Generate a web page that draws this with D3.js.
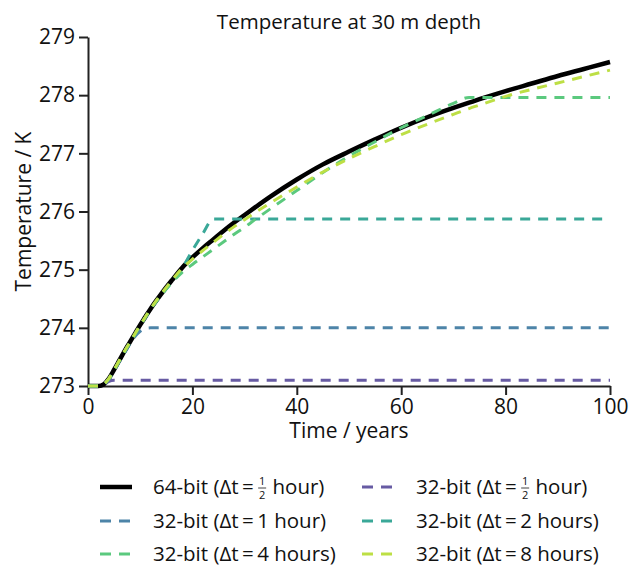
<!DOCTYPE html>
<html>
<head>
<meta charset="utf-8">
<script src="https://cdn.jsdelivr.net/npm/d3@7"></script>
<style>
  body { margin: 0; background: #fff; }
  svg { font-family: 'Open Sans', sans-serif; }
</style>
</head>
<body>
<svg id="chart" width="630" height="567"></svg>
<script>
// time axis (years) shared by every series
var years = [0, 2, 3, 4, 5, 6, 7, 8, 9, 10, 11, 12, 14, 16, 18, 20, 22, 24, 26, 28, 30, 32, 35,
  40, 45, 50, 55, 60, 65, 70, 73, 75, 80, 85, 90, 95, 100];

var temp64half = [273.00, 273.00, 273.03, 273.13, 273.28, 273.44, 273.60, 273.75, 273.90, 274.05, 274.19, 274.33, 274.58,
  274.81, 275.03, 275.21, 275.37, 275.52, 275.67, 275.81, 275.94, 276.07, 276.26,
  276.55, 276.81, 277.03, 277.24, 277.44, 277.62, 277.78, 277.87, 277.93, 278.07, 278.20, 278.33, 278.45, 278.57];

var temp32half = [273.00, 273.00, 273.02, 273.08, 273.10, 273.10, 273.10, 273.10, 273.10, 273.10, 273.10, 273.10, 273.10,
  273.10, 273.10, 273.10, 273.10, 273.10, 273.10, 273.10, 273.10, 273.10, 273.10,
  273.10, 273.10, 273.10, 273.10, 273.10, 273.10, 273.10, 273.10, 273.10, 273.10, 273.10, 273.10, 273.10, 273.10];

var temp32h1 = [273.00, 273.00, 273.03, 273.12, 273.27, 273.42, 273.57, 273.72, 273.85, 273.94, 273.99, 274.00, 274.00,
  274.00, 274.00, 274.00, 274.00, 274.00, 274.00, 274.00, 274.00, 274.00, 274.00,
  274.00, 274.00, 274.00, 274.00, 274.00, 274.00, 274.00, 274.00, 274.00, 274.00, 274.00, 274.00, 274.00, 274.00];

var temp32h2 = [273.00, 273.00, 273.03, 273.12, 273.27, 273.43, 273.59, 273.74, 273.89, 274.04, 274.18, 274.32, 274.56,
  274.79, 275.02, 275.33, 275.62, 275.87, 275.87, 275.87, 275.87, 275.87, 275.87,
  275.87, 275.87, 275.87, 275.87, 275.87, 275.87, 275.87, 275.87, 275.87, 275.87, 275.87, 275.87, 275.87, 275.87];

var temp32h4 = [273.00, 273.00, 273.03, 273.12, 273.27, 273.43, 273.59, 273.74, 273.89, 274.04, 274.18, 274.32, 274.56,
  274.77, 274.95, 275.09, 275.22, 275.35, 275.48, 275.61, 275.73, 275.86, 276.05,
  276.36, 276.67, 276.95, 277.20, 277.44, 277.65, 277.86, 277.96, 277.96, 277.96, 277.96, 277.96, 277.96, 277.96];

var temp32h8 = [273.00, 273.00, 273.03, 273.13, 273.28, 273.44, 273.60, 273.75, 273.90, 274.05, 274.19, 274.33, 274.58,
  274.81, 275.02, 275.18, 275.33, 275.47, 275.61, 275.74, 275.86, 275.98, 276.15,
  276.42, 276.68, 276.91, 277.12, 277.32, 277.50, 277.67, 277.77, 277.83, 277.98, 278.10, 278.21, 278.32, 278.43];

var xTicks = [0, 20, 40, 60, 80, 100];
var yTicks = [273, 274, 275, 276, 277, 278, 279];

var series = [
  {bits: '64-bit', dt: 'half', values: temp64half, color: '#000000', dashed: false},
  {bits: '32-bit', dt: 'half', values: temp32half, color: '#675ba3', dashed: true},
  {bits: '32-bit', dt: '1 hour', values: temp32h1, color: '#4d84a8', dashed: true},
  {bits: '32-bit', dt: '2 hours', values: temp32h2, color: '#3aa898', dashed: true},
  {bits: '32-bit', dt: '4 hours', values: temp32h4, color: '#5bc97e', dashed: true},
  {bits: '32-bit', dt: '8 hours', values: temp32h8, color: '#bddf45', dashed: true}
];

var svg = d3.select('#chart');
var margin = {left: 88, right: 20, top: 37, bottom: 181};
var W = 630, H = 567;

var x = d3.scaleLinear().domain([0, 100]).range([margin.left, W - margin.right]);
var y = d3.scaleLinear().domain([273, 279]).range([H - margin.bottom, margin.top]);

// axes
var xAxis = svg.append('g')
  .attr('transform', 'translate(0,' + y(273) + ')')
  .call(d3.axisBottom(x).tickValues(xTicks).tickFormat(d3.format('d'))
    .tickSize(9).tickPadding(4).tickSizeOuter(0));
var yAxis = svg.append('g')
  .attr('transform', 'translate(' + x(0) + ',0)')
  .call(d3.axisLeft(y).tickValues(yTicks).tickFormat(d3.format('d'))
    .tickSize(9).tickPadding(4).tickSizeOuter(0));

[xAxis, yAxis].forEach(function(a) {
  a.selectAll('path, line').attr('stroke', '#222').attr('stroke-width', 2);
  a.selectAll('text').attr('font-size', 21).attr('fill', '#111')
    .attr('font-family', "'Open Sans', sans-serif");
});

// lines
var line = d3.line()
  .x(function(d) { return x(d[0]); })
  .y(function(d) { return y(d[1]); })
  .curve(d3.curveMonotoneX);

series.forEach(function(s) {
  var pts = years.map(function(t, i) { return [t, s.values[i]]; });
  svg.append('path')
    .datum(pts)
    .attr('d', line)
    .attr('fill', 'none')
    .attr('stroke', s.color)
    .attr('stroke-width', s.dashed ? 3 : 4.5)
    .attr('stroke-dasharray', s.dashed ? '10,8' : null);
});

// titles
svg.append('text')
  .attr('x', (x(0) + x(100)) / 2).attr('y', 29)
  .attr('text-anchor', 'middle').attr('font-size', 20.5).attr('fill', '#111')
  .text('Temperature at 30 m depth');

svg.append('text')
  .attr('x', (x(0) + x(100)) / 2).attr('y', 438)
  .attr('text-anchor', 'middle').attr('font-size', 21).attr('fill', '#111')
  .text('Time / years');

svg.append('text')
  .attr('transform', 'translate(31,' + y(276) + ') rotate(-90)')
  .attr('text-anchor', 'middle').attr('font-size', 21).attr('fill', '#111')
  .text('Temperature / K');

// legend, two columns
var legendCols = [{sx: 100, tx: 153}, {sx: 362, tx: 416}];
var legendRows = [487, 521, 554];

series.forEach(function(s, i) {
  var col = legendCols[i % 2], row = legendRows[Math.floor(i / 2)];
  svg.append('line')
    .attr('x1', col.sx).attr('x2', col.sx + 32)
    .attr('y1', row).attr('y2', row)
    .attr('stroke', s.color)
    .attr('stroke-width', s.dashed ? 3 : 4.5)
    .attr('stroke-dasharray', s.dashed ? '11,8' : null);

  var g = svg.append('g').attr('font-size', 20.5).attr('fill', '#111');
  var base = row + 7;
  var t1 = g.append('text').attr('x', col.tx).attr('y', base)
    .text(s.bits + ' (\u0394t\u2009=\u2009' + (s.dt === 'half' ? '' : s.dt + ')'));
  if (s.dt === 'half') {
    // stacked 1/2
    var fx = col.tx + t1.node().getComputedTextLength() + 1;
    g.append('text').attr('x', fx + 4).attr('y', row - 2).attr('font-size', 11)
      .attr('text-anchor', 'middle').text('1');
    g.append('line').attr('x1', fx).attr('x2', fx + 8)
      .attr('y1', row + 1).attr('y2', row + 1).attr('stroke', '#111').attr('stroke-width', 0.8);
    g.append('text').attr('x', fx + 4).attr('y', row + 12).attr('font-size', 11)
      .attr('text-anchor', 'middle').text('2');
    g.append('text').attr('x', fx + 9).attr('y', base).text('\u00a0hour)');
  }
});
</script>
</body>
</html>
